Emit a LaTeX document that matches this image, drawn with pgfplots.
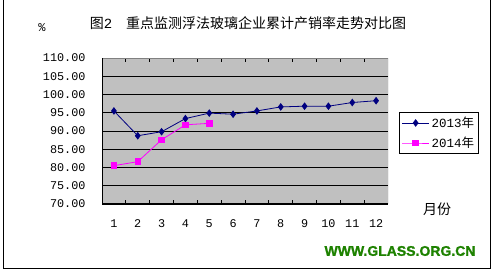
\documentclass[border=0pt]{standalone}
\usepackage{fontspec}
\usepackage{pgfplots}
\pgfplotsset{compat=1.18}
\setmainfont{Liberation Mono}
\newfontfamily\cjk{Noto Sans CJK SC}
\newfontfamily\webfont[FakeBold=1.2]{Liberation Sans Bold}
\definecolor{plotgray}{RGB}{192,192,192}
\definecolor{navyc}{RGB}{0,0,128}
\definecolor{magc}{RGB}{255,0,255}
\definecolor{webgreen}{RGB}{30,130,0}
\begin{document}
\begin{tikzpicture}[x=1pt,y=1pt]
\useasboundingbox (0,0) rectangle (493,273);
\fill[white] (0,0) rectangle (493,273);
\draw[black, line width=1pt] (3.5,4.5) rectangle (490,280);
\begin{axis}[
  at={(102pt,69pt)}, anchor=south west,
  scale only axis, width=286pt, height=146pt,
  xmin=0.5, xmax=12.5, ymin=70, ymax=110,
  axis background/.style={fill=plotgray},
  axis line style={draw=none},
  xtick={1,...,12},
  minor xtick={1.5,2.5,...,11.5},
  ytick={70,75,...,110},
  major tick length=0pt,
  minor tick length=4pt,
  tick align=inside,
  minor tick style={black, line width=0.8pt},
  ymajorgrids,
  grid style={black, line width=0.8pt},
  yticklabel style={font=\fontsize{11.8}{12}\selectfont},
  xticklabel style={font=\fontsize{11.8}{12}\selectfont},
  yticklabel shift=13pt,
  xticklabel shift=12pt,
  /pgf/number format/.cd, fixed, fixed zerofill, precision=2, assume math mode=true,
  /pgfplots/.cd,
  xticklabel={\pgfmathprintnumber[fixed,precision=0,fixed zerofill=false]{\tick}},
  legend style={at={(1.038,0.630)}, anchor=north west, draw=black, fill=white,
    font=\fontsize{12.5}{13}\selectfont, inner sep=2.5pt, row sep=4pt, line width=0.8pt},
  legend cell align=left,
  legend image code/.code={\draw[mark repeat=2,mark phase=2] plot coordinates {(0pt,0pt)(13.5pt,0pt)(27pt,0pt)};},
]
\addplot[navyc, line width=0.8pt, mark=diamond*, mark size=3.2pt, mark options={fill=navyc, draw=navyc}]
  coordinates {(1,95.5)(2,88.7)(3,89.8)(4,93.4)(5,94.9)(6,94.6)(7,95.5)(8,96.6)(9,96.8)(10,96.8)(11,97.8)(12,98.3)};
\addlegendentry{2013{\cjk 年}}
\addplot[magc, line width=0.8pt, mark=square*, mark size=2.8pt, mark options={fill=magc, draw=magc}]
  coordinates {(1,80.5)(2,81.6)(3,87.6)(4,91.7)(5,92.1)};
\addlegendentry{2014{\cjk 年}}
\draw[gray, line width=0.8pt] (rel axis cs:0,1) -- (rel axis cs:1,1) -- (rel axis cs:1,0);
\draw[black, line width=1pt] (rel axis cs:0,1) -- (rel axis cs:0,0) -- (rel axis cs:1,0);
\end{axis}
\node[font=\fontsize{12}{12}\selectfont] at (42,245) {\%};
\node[font=\fontsize{14}{16}\selectfont] at (248,250) {{\cjk 图}2{\cjk 　重点监测浮法玻璃企业累计产销率走势对比图}};
\node[font=\cjk\fontsize{14}{16}\selectfont] at (437,64) {月份};
\node[font=\webfont\fontsize{14}{14}\selectfont, text=webgreen] at (400,22) {WWW.GLASS.ORG.CN};
\end{tikzpicture}
\end{document}
